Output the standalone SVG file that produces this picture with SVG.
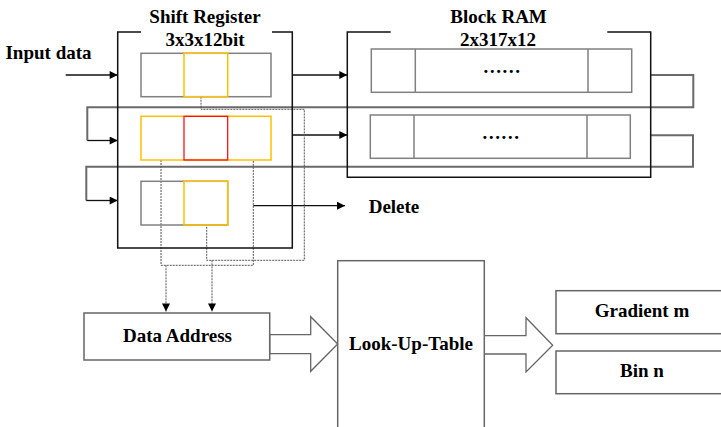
<svg xmlns="http://www.w3.org/2000/svg" width="721" height="427" viewBox="0 0 721 427">
<defs>
<style>
.t{font-family:"Liberation Serif","Times New Roman",serif;font-weight:bold;font-size:19px;fill:#000;text-anchor:middle}
.frame{fill:none;stroke:#111;stroke-width:1.5}
.cell{fill:none;stroke:#808080;stroke-width:1.5}
.yel{fill:none;stroke:#FFC000;stroke-width:1.5}
.red{fill:none;stroke:#FF0000;stroke-width:1.2}
.bus{fill:none;stroke:#6a6a6a;stroke-width:2}
.wire{fill:none;stroke:#111;stroke-width:1.3}
.dot{fill:none;stroke:#555;stroke-width:1;stroke-dasharray:2,1}
.box{fill:#fff;stroke:#666;stroke-width:1.5}
.hollow{fill:#fff;stroke:#666;stroke-width:1.3}
</style>
<marker id="ah" viewBox="0 0 10 10" refX="10" refY="5" markerWidth="9" markerHeight="8" markerUnits="userSpaceOnUse" orient="auto">
<path d="M0,0 L10,5 L0,10 z" fill="#000"/>
</marker>
</defs>
<rect width="721" height="427" fill="#fff"/>

<g id="connectors">
<!-- long bus lines with loops -->
<path class="bus" d="M650.7,75 H693.3 V107.3 H87.3 V140.5"/>
<path class="bus" d="M650.7,135.3 H693 V166.7 H86.3 V200.5"/>
<path class="wire" d="M87.3,140.5 H117.7" marker-end="url(#ah)"/>
<path class="wire" d="M86.3,200.5 H117.7" marker-end="url(#ah)"/>
<!-- input -->
<path class="wire" d="M65.7,75 H117.7" marker-end="url(#ah)"/>
<!-- shift reg to RAM -->
<path class="wire" d="M292.3,75 H347.3" marker-end="url(#ah)"/>
<path class="wire" d="M292.3,135 H347.3" marker-end="url(#ah)"/>
<!-- delete -->
<path class="wire" d="M253.3,205.7 H345" marker-end="url(#ah)"/>
<!-- dotted -->
<path class="dot" d="M201,96.7 V109.3 H304.3 V260.3 H206.7 V225"/>
<path class="dot" d="M161,160 V265.3 H253.3 V160"/>
<path class="dot" d="M166,265.3 V311.5" marker-end="url(#ah)"/>
<path class="dot" d="M212,260.3 V311.5" marker-end="url(#ah)"/>
<!-- hollow arrows -->
<polygon class="hollow" points="269.7,334.7 310.7,334.7 310.7,316.7 337.7,344 310.7,371.3 310.7,353.7 269.7,353.7"/>
<polygon class="hollow" points="484.3,335.7 526,335.7 526,317.7 552.7,345.3 526,372 526,354 484.3,354"/>
</g>

<g id="shift-register">
<path class="frame" d="M141,32 H117.7 V248 H292.3 V32 H272"/>
<text class="t" x="205" y="22.5">Shift Register</text>
<text class="t" x="205" y="45.5">3x3x12bit</text>
<!-- row 1 -->
<rect class="cell" x="141" y="53.3" width="130" height="43.4"/>
<rect class="yel" x="184" y="53.3" width="43.7" height="43.4"/>
<!-- row 2 -->
<rect class="yel" x="141" y="116.3" width="130" height="43.7"/>
<rect class="red" x="184" y="116.3" width="43.7" height="43.7"/>
<!-- row 3 -->
<rect class="cell" x="141" y="181.3" width="86.7" height="43.7"/>
<rect class="yel" x="184" y="181.3" width="43.7" height="43.7"/>
</g>

<g id="input-data">
<text class="t" x="48.5" y="59">Input data</text>
</g>

<g id="block-ram">
<path class="frame" d="M390.7,32 H347.3 V177.3 H650.7 V32 H607.3"/>
<text class="t" x="498.5" y="22.5">Block RAM</text>
<text class="t" x="498" y="45.5">2x317x12</text>
<rect class="cell" x="371.3" y="49" width="260.4" height="43.3"/>
<path class="cell" d="M415.3,49 V92.3 M588,49 V92.3"/>
<text class="t" x="501.7" y="73">……</text>
<rect class="cell" x="370.3" y="115" width="260" height="43.3"/>
<path class="cell" d="M414,115 V158.3 M587,115 V158.3"/>
<text class="t" x="500.7" y="139">……</text>
</g>

<g id="delete">
<text class="t" x="394" y="213.3">Delete</text>
</g>

<g id="data-address">
<rect class="box" x="84" y="313" width="185.7" height="47"/>
<text class="t" x="177.5" y="341.7">Data Address</text>
</g>

<g id="lut">
<rect class="box" x="337.7" y="260.7" width="146.6" height="180"/>
<text class="t" x="411" y="350">Look-Up-Table</text>
</g>

<g id="gradient">
<rect class="box" x="556" y="290.7" width="180" height="43"/>
<text class="t" x="642" y="317.3">Gradient m</text>
</g>

<g id="bin">
<rect class="box" x="556" y="351" width="180" height="42.7"/>
<text class="t" x="642" y="377">Bin n</text>
</g>
</svg>
